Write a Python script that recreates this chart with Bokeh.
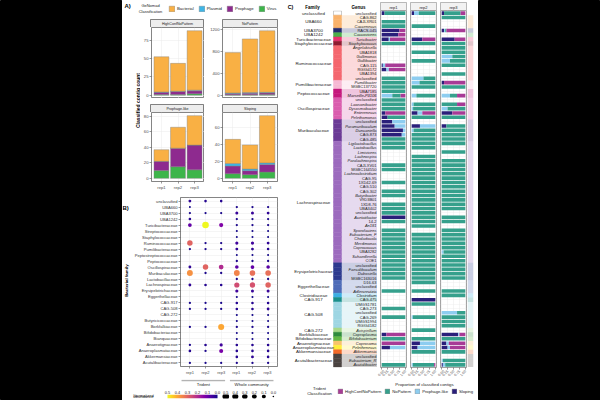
import numpy as np
from math import pi
from bokeh.plotting import figure
from bokeh.layouts import row, column
from bokeh.models import (Range1d, FactorRange, FixedTicker, Legend, LegendItem, Label,
                          ColumnDataSource, Grid, CategoricalTicker, NumeralTickFormatter)
from bokeh.transform import linear_cmap
from bokeh.palettes import Plasma256
from bokeh.core.properties import value, field
from bokeh.embed import file_html
from bokeh.resources import INLINE

FONT = "Liberation Sans"
GRID = "#EBEBEB"

# ---------------- Panel A data ----------------
reps = ["rep1", "rep2", "rep3"]
genomad_classes = ["Virus", "Prophage", "Plasmid", "Bacterial"]          # bottom -> top
genomad_colors = ["#3DB54A", "#8E2A8F", "#3FB5E5", "#F9B044"]
genomad_legend = ["Bacterial", "Plasmid", "Prophage", "Virus"]
a_ticks = {"HighConfNoPattern": [0, 25, 50, 75], "NoPattern": [0, 400, 800, 1200],
           "Prophage-like": [0, 20, 40, 60, 80], "Sloping": [0, 20, 40, 60]}
a_virus = {"HighConfNoPattern": [1, 1, 2], "NoPattern": [8, 10, 12],
           "Prophage-like": [10, 15, 11], "Sloping": [5.5, 4.4, 7.4]}
a_prophage = {"HighConfNoPattern": [3, 4, 4], "NoPattern": [25, 28, 30],
              "Prophage-like": [12, 24, 32], "Sloping": [9, 4.7, 9]}
a_plasmid = {"HighConfNoPattern": [0.5, 0.5, 1], "NoPattern": [10, 12, 12],
             "Prophage-like": [0, 0, 0], "Sloping": [3, 1.9, 1.8]}
a_bacterial = {"HighConfNoPattern": [48, 38, 81], "NoPattern": [737, 980, 1126],
               "Prophage-like": [15, 27, 38], "Sloping": [28.5, 28.5, 55.8]}

# ---------------- Panel B data ----------------
b_families = ["unclassified", "UBA660", "UBA3700", "UBA1242", "Turicibacteraceae", "Streptococcaceae",
              "Staphylococcaceae", "Ruminococcaceae", "Pumilibacteraceae", "Peptostreptococcaceae",
              "Peptococcaceae", "Oscillospiraceae", "Muribaculaceae", "Lactobacillaceae", "Lachnospiraceae",
              "Erysipelotrichaceae", "Eggerthellaceae", "CAG-917", "CAG-508", "CAG-272", "Butyricicoccaceae",
              "Borkfalkiaceae", "Bifidobacteriaceae", "Bianquaceae", "Anaerotignaceae", "Anaeroplasmataceae",
              "Akkermansiaceae", "Acutalibacteraceae"]
b_groups = ["Trident", "Whole community"]
b_trident_rep1 = [0.03, 0.004, 0.008, 0.02, 0.09, 0, 0, 0.30, 0.01, 0, 0, 0.03, 0.37, 0, 0.03, 0, 0,
                  0.008, 0.008, 0, 0, 0.008, 0, 0, 0.01, 0.02, 0, 0.008]
b_trident_rep2 = [0.02, 0, 0.008, 0, 0.50, 0, 0, 0.01, 0.01, 0, 0, 0.30, 0.01, 0, 0.02, 0, 0,
                  0.008, 0.008, 0, 0, 0.01, 0, 0, 0.02, 0.01, 0, 0.008]
b_trident_rep3 = [0.02, 0, 0.008, 0, 0.13, 0, 0, 0.01, 0.01, 0, 0, 0.20, 0.01, 0, 0.02, 0, 0,
                  0.008, 0.008, 0, 0, 0.40, 0, 0, 0.05, 0.12, 0, 0.008]
b_whole_rep1 = [0, 0.01, 0.04, 0.01, 0.01, 0.005, 0.004, 0.05, 0.03, 0.004, 0.01, 0.08, 0.35, 0.01, 0.26,
                0.05, 0.005, 0.02, 0.02, 0.005, 0.005, 0.01, 0.004, 0.005, 0.02, 0.02, 0.02, 0.01]
b_whole_rep2 = [0, 0.01, 0.04, 0.01, 0.01, 0.005, 0.004, 0.05, 0.03, 0.004, 0.01, 0.09, 0.32, 0.01, 0.27,
                0.04, 0.005, 0.02, 0.02, 0.005, 0.004, 0.01, 0.004, 0.005, 0.02, 0.02, 0.03, 0.01]
b_whole_rep3 = [0, 0.01, 0.03, 0.01, 0.01, 0.005, 0.004, 0.03, 0.02, 0.004, 0.01, 0.08, 0.32, 0.01, 0.30,
                0.04, 0.005, 0.02, 0.03, 0.005, 0.005, 0.01, 0.004, 0.005, 0.02, 0.02, 0.02, 0.01]
b_breaks = [0.5, 0.4, 0.3, 0.2, 0.1, 0.0]

# ---------------- Panel C data ----------------
c_families = ["unclassified", "UBA660", "UBA3700", "UBA1242", "Turicibacteraceae", "Staphylococcaceae",
              "Ruminococcaceae", "Pumilibacteraceae", "Peptococcaceae", "Oscillospiraceae", "Muribaculaceae",
              "Lachnospiraceae", "Erysipelotrichaceae", "Eggerthellaceae", "Clostridiaceae", "CAG-917",
              "CAG-508", "CAG-272", "Borkfalkiaceae", "Bifidobacteriaceae", "Anaerotignaceae",
              "Anaeroplasmataceae", "Akkermansiaceae", "Acutalibacteraceae"]
c_family_sizes = [1, 3, 1, 1, 1, 1, 8, 2, 2, 5, 5, 28, 4, 3, 1, 1, 6, 1, 1, 1, 1, 1, 1, 3]
c_family_colors = ["#FFFFFF", "#F9B26B", "#232A6E", "#4DAF4A", "#E8336D", "#8E1B30", "#F4676F", "#F6B8D4",
                   "#C5197D", "#DA5DAE", "#6B3A96", "#9C6BBE", "#2D3A8F", "#4E6CB8", "#3BAEE3", "#1A8F8A",
                   "#9ED6E3", "#A8D88A", "#2E8B3D", "#62B845", "#F7C36C", "#FFED3A", "#F26A2A", "#4A4340"]
c_genus = ["unclassified",
           "CAG-862", "CAJLXR01", "Caccenecus",
           "RACS-045", "Caccovivens", "Turicibacter", "Staphylococcus",
           "Angelakisella", "UBA1818", "Gallimonas", "Gallibacter", "CAG-115", "RGIG4172", "UBA1394", "unclassified",
           "Pumilibacter", "MGBC137720", "UBA7185", "Marseille-P3106",
           "unclassified", "Lawsonibacter", "Dysosmobacter", "Enterenecus", "Pelethomonas",
           "unclassified", "Paramuribaculum", "Duncaniella", "CAG-873", "CAG-485",
           "Ligilactobacillus", "Lactobacillus", "Limivivens", "Lachnospira", "Paralachnospira", "CAJLXV01",
           "MGBC164550", "Lachnoclostridium", "CAG-95", "1XD42-69",
           "CAG-510", "CAG-302", "Butyribacter", "V9D3B01", "1XD8-76", "UBA3402", "unclassified",
           "Acetatifactor", "14-2", "An181",
           "Sporofaciens", "Eubacterium_F", "Choladocola", "Merdimonas", "Coprococcus", "UBA3282",
           "Schaedlerella", "COE1",
           "unclassified", "Faecalibaculum", "Dubosiella", "MGBC163016",
           "D16-63", "unclassified", "Adlercreutzia", "Clostridium", "CAG-475",
           "UMGS1781", "CAG-273", "unclassified", "CAG-269", "UMGS1994", "RGIG4182",
           "Avispirillum", "Coproplasma", "Bifidobacterium", "Coprosoma", "Pelethenecus", "Akkermansia",
           "unclassified", "Eubacterium_R", "Acutalibacter"]
c_classes = ["Sloping", "Prophage-like", "NoPattern", "HighConfNoPattern"]   # left -> right
c_colors = ["#2A1F7A", "#8DCDF0", "#35A08C", "#A73B96"]
c_legend = ["HighConfNoPattern", "NoPattern", "Prophage-like", "Sloping"]
N = (0, 0, 1, 0)   # all NoPattern
E = (0, 0, 0, 0)   # no contigs
c_rep1 = [(0.12, 0, 0.88, 0), E, N, N, (0.75, 0, 0, 0.25), (0.7, 0, 0, 0.3), (0.3, 0.05, 0, 0.65), N, E, E,
          E, E, (0.05, 0.1, 0, 0.85), (0.2, 0.1, 0, 0.7), E, N, N, N, N, (0, 0.45, 0.35, 0.2),
          N, N, N, (0.15, 0, 0, 0.85), (0.25, 0, 0.75, 0), (0.45, 0.55, 0, 0), (0.55, 0.45, 0, 0),
          (0.9, 0.1, 0, 0), (0.85, 0.15, 0, 0), N,
          N, N, E, E, E, N, N, E, E, N,
          E, N, N, E, N, N, N, (1, 0, 0, 0), N, E,
          N, N, N, N, N, N, N, N, N, N,
          N, N, E, E, N, E, E, E, N, E,
          N, E, E, E, (0.2, 0, 0, 0.8), N, (0, 0, 0, 1), (0.35, 0.65, 0, 0), E, E,
          E, N]
c_rep2 = [(0.1, 0.2, 0.7, 0), E, E, N, E, E, (0.45, 0, 0, 0.55), N, E, N,
          E, N, E, E, E, (0, 0.5, 0.5, 0), (0, 0.33, 0.67, 0), N, E, (0, 0.2, 0.8, 0),
          E, (0, 0.08, 0.92, 0), (0, 0.06, 0.94, 0), (0.25, 0.2, 0, 0.55), N, E, (0.35, 0.65, 0, 0),
          (0, 0.08, 0.92, 0), N, N,
          N, N, E, N, N, N, N, N, N, N,
          N, N, N, N, N, N, N, N, N, N,
          E, N, N, N, N, N, N, N, N, N,
          N, N, N, E, N, E, (1, 0, 0, 0), N, E, E,
          (0, 0.05, 0.95, 0), E, E, N, E, N, (0.35, 0.65, 0, 0), (0.25, 0.75, 0, 0), N, E,
          E, (0, 0.05, 0.9, 0.05)]
c_rep3 = [(0.1, 0, 0.7, 0.2), N, E, E, (0.1, 0.05, 0.05, 0.8), E, (0.55, 0, 0, 0.45), N, N, N,
          (0, 0.45, 0.55, 0), (0, 0.35, 0.65, 0), N, E, N, E, (0.1, 0, 0, 0.9), N, E, (0, 0.35, 0.3, 0.35),
          E, (0, 0, 0.65, 0.35), (0, 0.25, 0.75, 0), (0.45, 0, 0, 0.55), N, E, (0.2, 0, 0.8, 0), N, N, N,
          N, E, N, E, N, N, N, N, N, N,
          N, N, N, N, N, N, E, N, N, E,
          N, N, N, N, N, (0, 0.08, 0.92, 0), N, N, N, N,
          N, N, E, E, N, N, E, E, E, (0, 0.65, 0.35, 0),
          N, N, N, E, (0.7, 0.05, 0, 0.25), N, (0.2, 0.1, 0, 0.7), (0.25, 0.1, 0, 0.65), N, E,
          (0, 0.05, 0.95, 0), (0.05, 0.1, 0.85, 0)]


# ---------------- helpers ----------------
def fig(w, h, xr, yr, mbl=0, mbr=0, mbt=0, mbb=0, xloc=None, yloc=None, bg="white", border="white"):
    p = figure(width=w, height=h, x_range=xr, y_range=yr, toolbar_location=None, output_backend="svg",
               min_border_left=mbl, min_border_right=mbr, min_border_top=mbt, min_border_bottom=mbb,
               x_axis_location=xloc, y_axis_location=yloc)
    p.background_fill_color = bg
    p.border_fill_color = border
    p.outline_line_color = None
    p.xgrid.visible = xloc is not None
    p.ygrid.visible = yloc is not None
    return p


def label(p, x, y, text, size, bold=False, align="center", angle=0, color="#1A1A1A"):
    p.add_layout(Label(x=x, y=y, text=text, text_font=FONT, text_font_size=f"{size}px",
                       text_font_style="bold" if bold else "normal", text_align=align,
                       text_baseline="middle", angle=angle, text_color=color))


def style_axis(ax, size=4.2, color="#4D4D4D"):
    ax.major_label_text_font = FONT
    ax.major_label_text_font_size = f"{size}px"
    ax.major_label_text_color = color
    ax.axis_line_color = None
    ax.major_tick_line_color = "#333333"
    ax.major_tick_line_width = 0.5
    ax.major_tick_out = 2
    ax.major_tick_in = 0
    ax.minor_tick_line_color = None
    ax.major_label_standoff = 1


def key_legend(p, names, colors, loc, size, gw, gh, spacing):
    items = []
    for name, col in zip(names, colors):
        # a renderer with no visible mark: it only supplies the legend key
        r = p.vbar(x=np.array([np.nan]), top=np.array([np.nan]), width=1, fill_color=col,
                   line_color="#7F7F7F", line_width=0.4)
        items.append(LegendItem(label=name, renderers=[r]))
    p.add_layout(Legend(items=items, location=loc, orientation="horizontal", label_text_font=FONT,
                        label_text_font_size=f"{size}px", glyph_width=gw, glyph_height=gh, label_height=gh,
                        label_width=0, label_standoff=2, spacing=spacing, padding=0, margin=0,
                        border_line_color=None, background_fill_alpha=0, label_text_color="#1A1A1A"))


def strip(w, h, mbl, mbr, text, size, bg, edge):
    p = fig(w, h, Range1d(0, 1), Range1d(0, 1), mbl=mbl, mbr=mbr, bg=bg)
    p.outline_line_color = edge
    p.outline_line_width = 0.6
    label(p, 0.5, 0.52, text, size)
    return p


def black(w, h):
    p = figure(width=w, height=h, x_range=Range1d(0, 1), y_range=Range1d(0, 1), toolbar_location=None,
               output_backend="svg", min_border=0)
    p.background_fill_color = "black"
    p.border_fill_color = "black"
    p.outline_line_color = "black"
    p.axis.visible = False
    p.grid.grid_line_color = "black"
    return p


def dot_size(v):
    return 1.6 + 5.0 * np.sqrt(v / 0.5)


# ---------------- Panel A ----------------
def a_panel(name, w, h, mbl, mbr, mbb, show_x):
    src = ColumnDataSource(dict(rep=reps, Virus=a_virus[name], Prophage=a_prophage[name],
                                Plasmid=a_plasmid[name], Bacterial=a_bacterial[name]))
    tot = np.sum([a_virus[name], a_prophage[name], a_plasmid[name], a_bacterial[name]], axis=0)
    top = float(tot.max())
    p = fig(w, h, FactorRange(*reps, range_padding=0.2 / 3), Range1d(-0.05 * top, 1.05 * top),
            mbl=mbl, mbr=mbr, mbb=mbb, xloc="below" if show_x else None, yloc="left")
    p.vbar_stack(genomad_classes, x="rep", width=0.9, source=src, fill_color=genomad_colors,
                 line_color="#7F7F7F", line_width=0.4)
    p.yaxis.ticker = FixedTicker(ticks=a_ticks[name])
    style_axis(p.yaxis)
    if show_x:
        style_axis(p.xaxis)
        p.xgrid.grid_line_color = GRID
        p.xgrid.grid_line_width = 0.5
    else:
        p.add_layout(Grid(dimension=0, ticker=CategoricalTicker(), grid_line_color=GRID, grid_line_width=0.5))
    p.ygrid.grid_line_color = GRID
    p.ygrid.grid_line_width = 0.5
    p.outline_line_color = "#333333"
    p.outline_line_width = 0.6
    return p


STH = 10   # facet strip height
tl = a_panel("HighConfNoPattern", 64, 71, 10, 0, 0, False)
tr = a_panel("NoPattern", 78, 71, 18, 5, 0, False)
bl = a_panel("Prophage-like", 64, 80, 10, 0, 9, True)
br = a_panel("Sloping", 78, 80, 18, 5, 9, True)
SB, SE = "#EDEDED", "#333333"
s_tl = strip(64, STH, 10, 0, "HighConfNoPattern", 3.6, SB, SE)
s_tr = strip(78, STH, 18, 5, "NoPattern", 3.6, SB, SE)
s_bl = strip(64, STH, 10, 0, "Prophage-like", 3.6, SB, SE)
s_br = strip(78, STH, 18, 5, "Sloping", 3.6, SB, SE)
a_gap = fig(142, 4, Range1d(0, 1), Range1d(0, 1))
a_grid = column(row(s_tl, s_tr), row(tl, tr), row(a_gap), row(s_bl, s_br), row(bl, br))

a_ylab = fig(18, 175, Range1d(0, 18), Range1d(0, 175))
label(a_ylab, 15, 92, "Classified contig count", 5, bold=True, angle=pi / 2, color="black")

a_head = fig(160, 17, Range1d(0, 160), Range1d(0, 17))
label(a_head, 2, 12, "A)", 6, bold=True, align="left", color="black")
label(a_head, 28, 12, "GeNomad", 4)
label(a_head, 28, 6.5, "Classification", 4)
key_legend(a_head, genomad_legend, [genomad_colors[genomad_classes.index(c)] for c in genomad_legend],
           (46, 5), 4.3, 7, 7, 4)

# ---------------- Panel B ----------------
# one factor per (group, replicate); the second group's factors carry a trailing space so that
# both groups can show the same replicate names on the axis
b_keys = [r + " " * gi for gi, g in enumerate(b_groups) for r in reps]
b_values = [b_trident_rep1, b_trident_rep2, b_trident_rep3, b_whole_rep1, b_whole_rep2, b_whole_rep3]
bx, by, bv = [], [], []
for key, vals in zip(b_keys, b_values):
    for fam, v in zip(b_families, vals):
        if v > 0:
            bx.append(key)
            by.append(fam)
            bv.append(v)
b_src = ColumnDataSource(dict(x=bx, y=by, v=bv, d=[dot_size(v) for v in bv]))
b_xr = FactorRange(*b_keys, range_padding=0.2 / 6)

BH = 185
pB = figure(width=151, height=BH, toolbar_location=None, output_backend="svg",
            x_range=b_xr, y_range=FactorRange(*b_families[::-1], range_padding=0.2 / 28),
            min_border_left=46, min_border_right=5, min_border_top=5, min_border_bottom=8)
pB.scatter(x="x", y="y", size="d", source=b_src, line_color=None,
           fill_color=linear_cmap("v", Plasma256, 0, 0.5))
style_axis(pB.yaxis, 4.1, "#333333")
style_axis(pB.xaxis, 4.0, "#4D4D4D")
pB.grid.grid_line_color = GRID
pB.grid.grid_line_width = 0.5
pB.outline_line_color = "#333333"
pB.outline_line_width = 0.6
pB.background_fill_color = "white"

b_side = fig(9, BH, Range1d(0, 9), Range1d(0, BH))
label(b_side, 0, BH - 11, "B)", 6, bold=True, align="left", color="black")
label(b_side, 4, (BH - 5 + 8) / 2, "Bacterial family", 4.4, bold=True, angle=pi / 2, color="black")

# group labels with grey bars under the replicate ticks
b_grp = fig(160, 10, b_xr, Range1d(0, 1), mbl=55, mbr=5)
g_mid = [reps[len(reps) // 2] + " " * gi for gi, g in enumerate(b_groups)]
g_src = ColumnDataSource(dict(x=g_mid, name=b_groups))
b_grp.rect(x="x", y=0.9, width=len(reps) - 0.3, height=0.14, source=g_src, fill_color="#B3B3B3",
           line_color=None)
b_grp.text(x="x", y=0.5, text="name", source=g_src, text_align="center", text_baseline="middle",
           text_font=value(FONT), text_font_size=value("4.3px"), text_color="#1A1A1A")

LH = 13
b_text = fig(41, LH, Range1d(0, 41), Range1d(0, LH))
label(b_text, 21, 9.6, "Normalized", 4.1)
label(b_text, 21, 5.0, "abundance", 4.1)

b_col = fig(58, LH, Range1d(0.5, 0.0), Range1d(0, 1), mbl=4, mbr=4, mbb=2, xloc="above")
grad = np.linspace(0.0, 0.5, 51)
b_col.rect(x="v", y=0.5, width=0.0105, height=1, source=ColumnDataSource(dict(v=grad)),
           fill_color=linear_cmap("v", Plasma256, 0, 0.5), line_color=None)
b_col.xaxis.ticker = FixedTicker(ticks=b_breaks)
b_col.xaxis.formatter = NumeralTickFormatter(format="0.0")
style_axis(b_col.xaxis, 3.9, "#1A1A1A")
b_col.xaxis.major_tick_out = 0
b_col.xgrid.visible = False

b_size = fig(59, LH, Range1d(0.545, -0.075), Range1d(0, 1), mbb=2, xloc="above")
b_size.scatter(x=b_breaks, y=[0.5] * len(b_breaks), size=[dot_size(v) for v in b_breaks],
               fill_color="black", line_color=None)
b_size.xaxis.ticker = FixedTicker(ticks=b_breaks)
b_size.xaxis.formatter = NumeralTickFormatter(format="0.0")
style_axis(b_size.xaxis, 3.9, "#1A1A1A")
b_size.xaxis.major_tick_out = 0
b_size.xgrid.visible = False
b_leg = row(b_text, b_col, b_size, fig(2, LH, Range1d(0, 1), Range1d(0, 1)))

col_ab = column(row(a_head), row(a_ylab, a_grid), row(b_side, pB), row(b_grp), b_leg)

# ---------------- Panel C ----------------
n_rows = len(c_genus)
idx = list(range(n_rows))
row_family = [f for f, n in zip(c_families, c_family_sizes) for _ in range(n)]
fam_color = dict(zip(c_families, c_family_colors))
row_fc = [fam_color[f] for f in row_family]
row_lc = ["#999999" if c == "#FFFFFF" else c for c in row_fc]
row_style = ["italic" if (g[0].isupper() and g[1].islower()) else "normal" for g in c_genus]
c_src = ColumnDataSource(dict(idx=idx, genus=c_genus, fc=row_fc, lc=row_lc, fstyle=row_style))
yr_c = Range1d(n_rows - 0.4, -0.6)
CH = 370   # panel height incl. bottom axis
CB = 13    # bottom axis band

c_left = fig(95, CH, Range1d(0, 95), yr_c, mbb=CB)
c_left.hbar(y="idx", left=59, right=95, height=1, source=c_src, fill_color=field("fc"),
            fill_alpha=0.25, line_color=None)
c_left.hbar(y="idx", left=51, right=59, height=1, source=c_src, fill_color=field("fc"),
            line_color=field("lc"), line_width=0.5)
c_left.text(x=94, y="idx", text="genus", source=c_src, text_align="right", text_baseline="middle",
            text_font=value(FONT), text_font_size=value("4px"), text_font_style=field("fstyle"),
            text_color="#1A1A1A")
starts = np.cumsum([0] + c_family_sizes[:-1])
centers = [float(s + (n - 1) / 2) for s, n in zip(starts, c_family_sizes)]
f_src = ColumnDataSource(dict(y=centers, name=c_families))
c_left.text(x=31, y="y", text="name", source=f_src, text_align="center", text_baseline="middle",
            text_font=value(FONT), text_font_size=value("4.4px"), text_color="#1A1A1A")


def c_panel(vals):
    cols = list(zip(*vals))
    src = ColumnDataSource(dict(idx=idx, **{c: list(v) for c, v in zip(c_classes, cols)}))
    p = fig(30, CH, Range1d(-0.05, 1.05), yr_c, mbl=3, mbr=1, mbb=CB, xloc="below")
    p.hbar_stack(c_classes, y="idx", height=0.82, source=src, fill_color=c_colors, line_color=None)
    p.xaxis.ticker = FixedTicker(ticks=[0, 0.25, 0.5, 0.75, 1.0])
    p.xaxis.formatter = NumeralTickFormatter(format="0.00")
    style_axis(p.xaxis, 3.6)
    p.xaxis.major_label_orientation = pi / 4
    p.xgrid.grid_line_color = GRID
    p.xgrid.grid_line_width = 0.5
    p.add_layout(Grid(dimension=1, ticker=FixedTicker(ticks=idx), grid_line_color=GRID, grid_line_width=0.4))
    p.outline_line_color = "#8C8C8C"
    p.outline_line_width = 0.8
    return p


c_p1, c_p2, c_p3 = c_panel(c_rep1), c_panel(c_rep2), c_panel(c_rep3)
c_right = fig(11, CH, Range1d(0, 1), yr_c, mbr=5, mbb=CB)
c_right.hbar(y="idx", left=0, right=1, height=1, source=c_src, fill_color=field("fc"),
             fill_alpha=0.25, line_color=None)

c_head = fig(95, 10, Range1d(0, 95), Range1d(0, 10))
label(c_head, 8, 5.2, "C)", 5.4, bold=True, color="black")
label(c_head, 30, 5.2, "Family", 4.5, bold=True, color="black")
label(c_head, 76, 5.2, "Genus", 4.5, bold=True, color="black")
CS, CE = "#F2F2F2", "#8C8C8C"
c_top = row(c_head, strip(30, 10, 3, 1, "rep1", 4.0, CS, CE), strip(30, 10, 3, 1, "rep2", 4.0, CS, CE),
            strip(30, 10, 3, 1, "rep3", 4.0, CS, CE), fig(11, 10, Range1d(0, 1), Range1d(0, 1)))
c_mid = row(c_left, c_p1, c_p2, c_p3, c_right)

c_bot = fig(196, 20, Range1d(0, 196), Range1d(0, 20))
label(c_bot, 142, 16.5, "Proportion of classified contigs", 4.3)
label(c_bot, 37, 12.5, "Trident", 4.2)
label(c_bot, 37, 7.0, "Classification", 4.2)
key_legend(c_bot, c_legend, [c_colors[c_classes.index(c)] for c in c_legend], (55, 6), 4.2, 6, 6, 3)

col_c = column(c_top, c_mid, row(c_bot))

layout = row(black(122, 400), col_ab, col_c, black(122, 400))
open("out.html", "w").write(file_html(layout, INLINE))
